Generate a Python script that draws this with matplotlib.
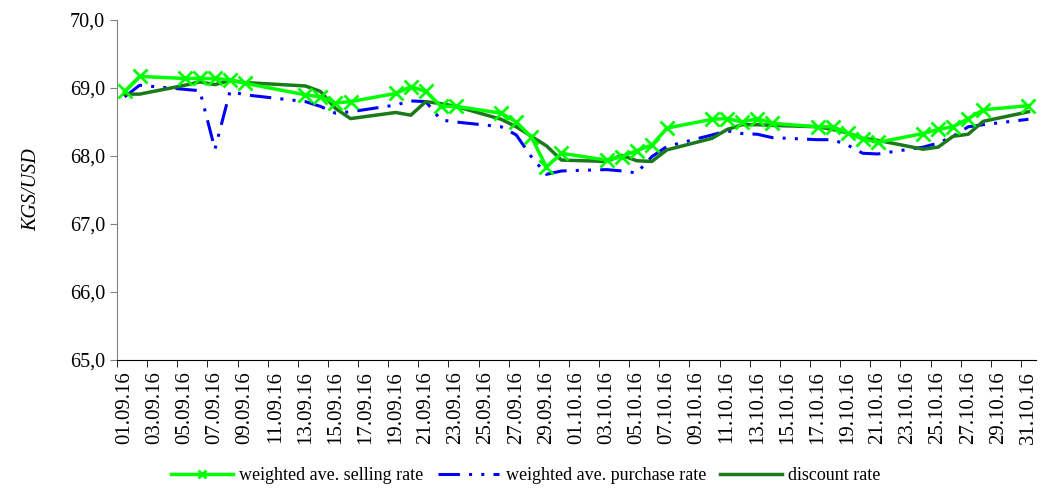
import pandas as pd
import numpy as np
import matplotlib
matplotlib.use("Agg")
import matplotlib.pyplot as plt

# observation days (business days, 12.09 was a holiday)
dates = ["01.09.16", "02.09.16", "05.09.16", "06.09.16", "07.09.16", "08.09.16", "09.09.16",
         "13.09.16", "14.09.16", "15.09.16", "16.09.16",
         "19.09.16", "20.09.16", "21.09.16", "22.09.16", "23.09.16",
         "26.09.16", "27.09.16", "28.09.16", "29.09.16", "30.09.16",
         "03.10.16", "04.10.16", "05.10.16", "06.10.16", "07.10.16",
         "10.10.16", "11.10.16", "12.10.16", "13.10.16", "14.10.16",
         "17.10.16", "18.10.16", "19.10.16", "20.10.16", "21.10.16",
         "24.10.16", "25.10.16", "26.10.16", "27.10.16", "28.10.16",
         "31.10.16"]

selling = [68.95, 69.17, 69.14, 69.14, 69.14, 69.12, 69.07,
           68.90, 68.87, 68.78, 68.80,
           68.92, 69.02, 68.95, 68.73, 68.73,
           68.63, 68.50, 68.28, 67.84, 68.04,
           67.94, 67.99, 68.08, 68.16, 68.41,
           68.54, 68.55, 68.50, 68.55, 68.48,
           68.43, 68.43, 68.34, 68.25, 68.20,
           68.33, 68.39, 68.43, 68.55, 68.68,
           68.74]

purchase = [68.87, 69.04, 68.98, 68.96, 68.10, 68.95, 68.90,
            68.80, 68.73, 68.63, 68.65,
            68.75, 68.81, 68.80, 68.53, 68.50,
            68.43, 68.31, 67.99, 67.73, 67.78,
            67.80, 67.78, 67.75, 67.99, 68.14,
            68.31, 68.37, 68.33, 68.32, 68.27,
            68.24, 68.24, 68.16, 68.04, 68.03,
            68.13, 68.19, 68.29, 68.43, 68.46,
            68.54]

discount = [68.91, 68.91, 69.04, 69.09, 69.05, 69.11, 69.08,
            69.03, 68.95, 68.70, 68.55,
            68.64, 68.60, 68.80, 68.77, 68.73,
            68.54, 68.43, 68.29, 68.15, 67.94,
            67.92, 68.01, 67.93, 67.92, 68.09,
            68.26, 68.39, 68.46, 68.46, 68.45,
            68.43, 68.39, 68.34, 68.26, 68.23,
            68.10, 68.13, 68.29, 68.32, 68.51,
            68.65]

start = pd.Timestamp("2016-09-01")
days = pd.date_range("2016-09-01", "2016-10-31", freq="D")
x = np.array([(pd.to_datetime(d, format="%d.%m.%y") - start).days for d in dates])

plt.rcParams['font.family'] = ['Liberation Serif', 'DejaVu Serif']

fig = plt.figure(figsize=(10.44, 4.91), dpi=100)
ax = fig.add_axes([117/1044, 131/491, 919/1044, 340/491])

ax.plot(x, selling, color='#00ff00', lw=2.5, marker='x', ms=10, mew=2,
        label='weighted ave. selling rate', zorder=3)
ax.plot(x, purchase, color='#0000ff', lw=2.2, dashes=(7, 3, 1, 3, 1, 3),
        label='weighted ave. purchase rate', zorder=2)
ax.plot(x, discount, color='#1a7a1a', lw=2.5, label='discount rate', zorder=2)

ax.set_xlim(-0.5, len(days) - 0.5)
ax.set_ylim(65, 70)
ax.set_yticks([65, 66, 67, 68, 69, 70])
ax.set_yticklabels([f"{v:.1f}".replace('.', ',') for v in [65, 66, 67, 68, 69, 70]])

# labels at every second day, tick marks on category boundaries
lab_pos = np.arange(0, len(days), 2)
ax.set_xticks(lab_pos)
ax.set_xticklabels([days[i].strftime("%d.%m.%y") for i in lab_pos], rotation=90)
ax.set_xticks(np.arange(-0.5, len(days), 2), minor=True)
ax.tick_params(axis='x', which='major', length=0, pad=8, labelsize=15)
ax.tick_params(axis='x', which='minor', length=5, direction='out')
ax.tick_params(axis='y', length=5, direction='out', labelsize=14.5, color='#808080')

ax.spines['top'].set_visible(False)
ax.spines['right'].set_visible(False)
ax.spines['left'].set_color('#808080')
ax.spines['bottom'].set_color('black')

ax.set_ylabel('KGS/USD', fontsize=14.5, style='italic')
ax.yaxis.set_label_coords(-76/919, 0.5)

fig.legend(loc='center', bbox_to_anchor=(526/1044, 1 - 476/491), ncol=3,
           frameon=False, fontsize=13, handlelength=3.4, handletextpad=0.35,
           columnspacing=0.8, markerscale=0.6)

fig.savefig('out.png', dpi=100)
